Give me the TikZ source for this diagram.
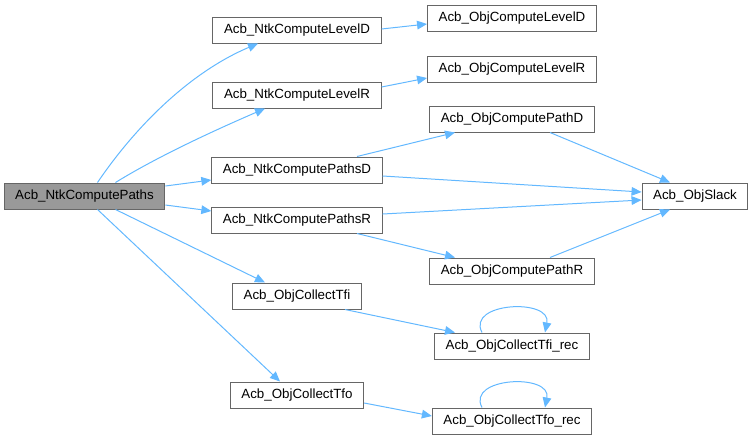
\documentclass[tikz,border=0pt]{standalone}
\usepackage{fontspec}
\setmainfont{Liberation Sans}
\usepackage{tikz}
\usetikzlibrary{arrows.meta, calc}
\definecolor{edgeblue}{HTML}{63B8FF}
\definecolor{boxgray}{HTML}{666666}
\definecolor{rootgray}{HTML}{999999}

\begin{document}
\begin{tikzpicture}[
    x=0.75pt, y=-0.75pt,
    font=\fontsize{10pt}{12pt}\selectfont,
    >={Triangle[length=7.5pt, width=6.5pt]},
    fn/.style={draw=boxgray, line width=0.75pt, fill=white, inner xsep=8.3pt, inner ysep=0pt, minimum height=19.5pt},
    rootfn/.style={fn, fill=rootgray},
    call/.style={->, line width=0.75pt, edgeblue}
]
\useasboundingbox (0,0) rectangle (753,440);

% ===== ROOT =====
\node[rootfn] (paths) at (84.5,196) {Acb\_NtkComputePaths};

% ===== SECOND COLUMN =====
\node[fn] (leveld) at (297,30) {Acb\_NtkComputeLevelD};
\node[fn] (levelr) at (297,95) {Acb\_NtkComputeLevelR};
\node[fn] (pathsd) at (297,170) {Acb\_NtkComputePathsD};
\node[fn] (pathsr) at (297,220) {Acb\_NtkComputePathsR};
\node[fn] (tfi) at (297,296) {Acb\_ObjCollectTfi};
\node[fn] (tfo) at (297,395) {Acb\_ObjCollectTfo};

% ===== THIRD COLUMN =====
\node[fn] (objleveld) at (512,18) {Acb\_ObjComputeLevelD};
\node[fn] (objlevelr) at (512,69) {Acb\_ObjComputeLevelR};
\node[fn] (pathd) at (512,119) {Acb\_ObjComputePathD};
\node[fn] (pathr) at (512,271) {Acb\_ObjComputePathR};
\node[fn] (tfirec) at (512,346) {Acb\_ObjCollectTfi\_rec};
\node[fn] (tforec) at (512,421) {Acb\_ObjCollectTfo\_rec};

% ===== LAST COLUMN =====
\node[fn] (slack) at (695,196) {Acb\_ObjSlack};

% ===== CONNECTIONS =====

% Root to second column
\draw[call] ($(paths.north)+(13,0)$) .. controls (140,120) and (195,70) .. ($(leveld.south)+(-39,0)$);
\draw[call] ($(paths.north)+(31,0)$) .. controls (160,155) and (220,128) .. ($(levelr.south)+(-32,0)$);
\draw[call] ($(paths.east)+(0,-10)$) -- ($(pathsd.west)+(0,10)$);
\draw[call] ($(paths.east)+(0,9)$) -- ($(pathsr.west)+(0,-9)$);
\draw[call] ($(paths.south)+(31,0)$) -- ($(tfi.north)+(-32,0)$);
\draw[call] ($(paths.south)+(13,0)$) -- ($(tfo.north)+(-17,0)$);

% Second column to third column
\draw[call] ($(leveld.east)+(0,-1)$) -- ($(objleveld.west)+(0,6)$);
\draw[call] ($(levelr.east)+(0,-8)$) -- ($(objlevelr.west)+(0,9)$);
\draw[call] ($(pathsd.north)+(60,0)$) -- ($(pathd.south)+(-57,0)$);
\draw[call] ($(pathsr.south)+(60,0)$) -- ($(pathr.north)+(-57,0)$);
\draw[call] ($(tfi.south)+(48,0)$) -- ($(tfirec.north)+(-57,0)$);
\draw[call] ($(tfo.east)+(0,8)$) -- ($(tforec.west)+(0,-5)$);

% Into the slack node
\draw[call] ($(pathsd.east)+(0,6)$) -- ($(slack.west)+(0,-4)$);
\draw[call] ($(pathsr.east)+(0,-6)$) -- ($(slack.west)+(0,4)$);
\draw[call] ($(pathd.south)+(38,0)$) -- ($(slack.north)+(-25,0)$);
\draw[call] ($(pathr.north)+(38,0)$) -- ($(slack.south)+(-25,0)$);

% Recursive calls
\draw[call] ($(tfirec.north)+(-30,0)$) .. controls (466,302) and (552,298) .. ($(tfirec.north)+(33,0)$);
\draw[call] ($(tforec.north)+(-30,0)$) .. controls (466,377) and (552,373) .. ($(tforec.north)+(33,0)$);

\end{tikzpicture}
\end{document}
